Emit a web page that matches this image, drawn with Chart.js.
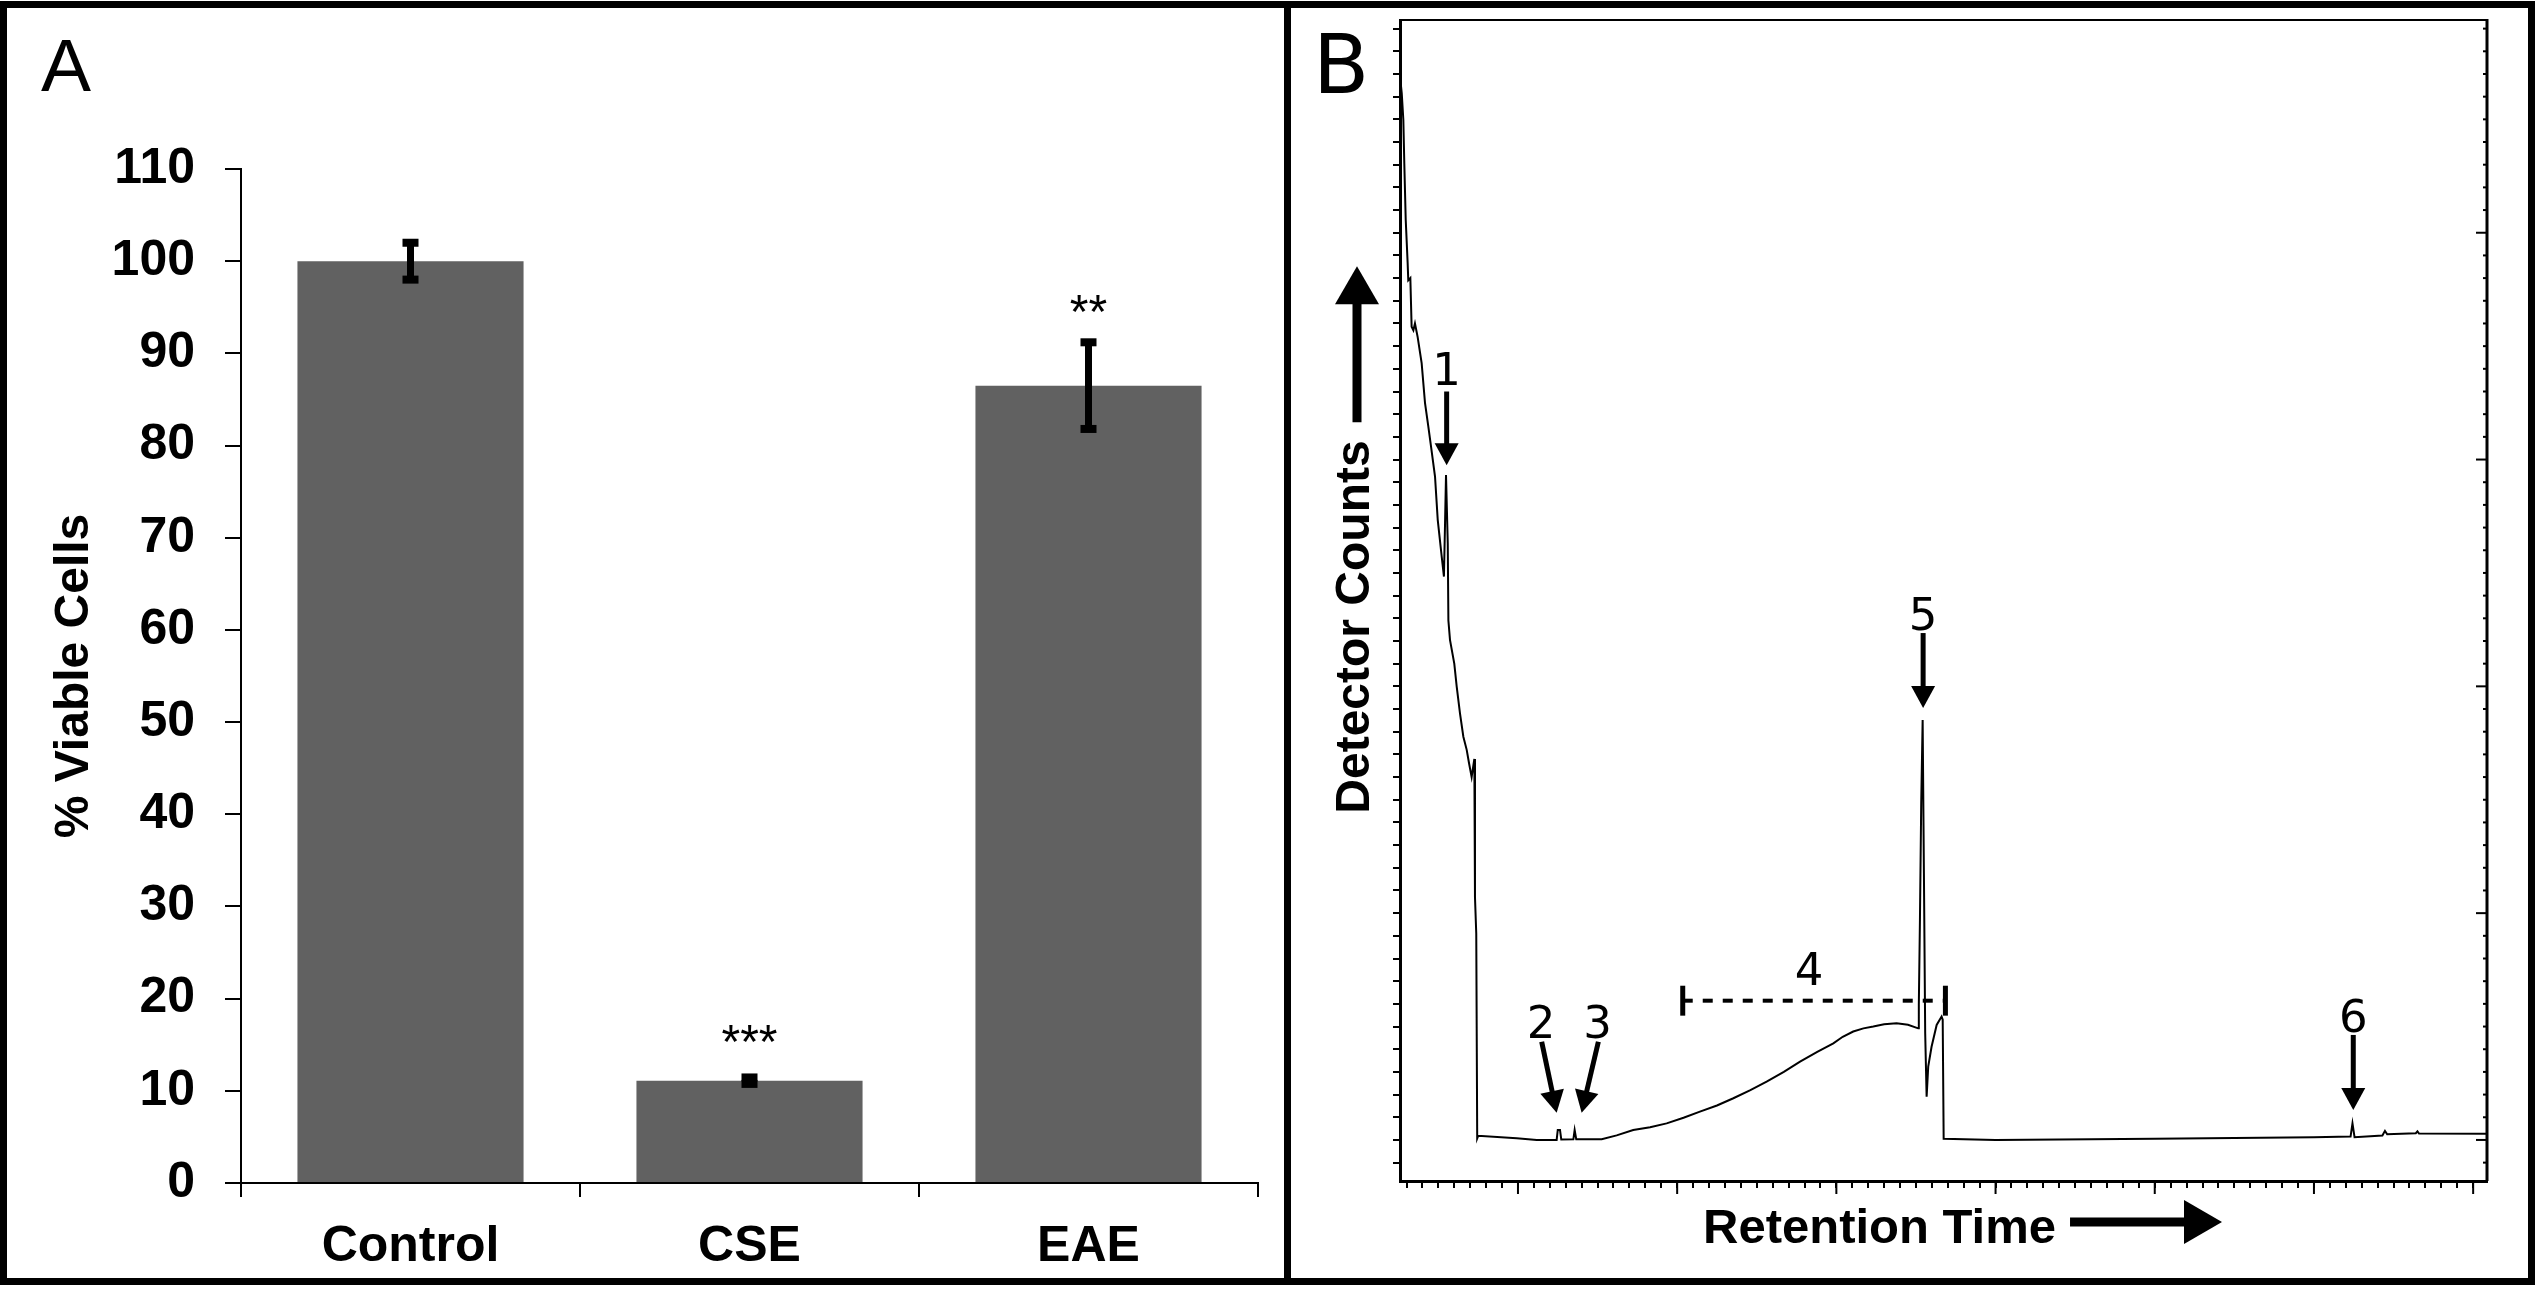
<!DOCTYPE html>
<html>
<head>
<meta charset="utf-8">
<script src="https://cdn.jsdelivr.net/npm/chart.js@4.4.1/dist/chart.umd.min.js"></script>
<style>
  html, body { margin: 0; padding: 0; background: #fff; }
  body { width: 2535px; height: 1290px; position: relative; overflow: hidden; }
  #frame { position: absolute; left: 0; top: 1px; width: 2535px; height: 1284px;
           box-sizing: border-box; border: 7px solid #000; }
  #divider { position: absolute; left: 1284px; top: 1px; width: 7px; height: 1284px; background: #000; }
  .pane { position: absolute; top: 8px; height: 1269px; }
  #paneA { left: 7px; width: 1277px; }
  #paneB { left: 1291px; width: 1237px; }
</style>
</head>
<body>
<div id="frame"></div>
<div id="divider"></div>
<div class="pane" id="paneA"><canvas id="chartA"></canvas></div>
<div class="pane" id="paneB"><canvas id="chartB"></canvas></div>

<script>
// ── Panel A: cell viability ────────────────────────────────
const groups       = ['Control', 'CSE', 'EAE'];
const viability    = [100, 11.1, 86.5];
const viabilityErr = [2.0, 0.35, 4.7];
const stars        = ['', '***', '**'];
const starLevel    = [null, 16.5, 95.7];

// ── Panel B: chromatogram trace (arbitrary units) ──────────
const rtX = [2.59, 2.70, 2.80, 2.86, 2.95, 3.07, 3.11, 3.24, 3.32, 3.43, 3.53, 3.70, 3.95, 4.16,
             4.37, 4.54, 4.79, 4.96, 5.21, 5.35, 5.42, 5.48, 5.59, 5.63, 5.73, 6.00, 6.15, 6.36,
             6.57, 6.78, 6.93, 7.09, 7.26, 7.30, 7.38, 7.44, 7.50, 9.92, 11.18, 12.43, 12.50,
             12.64, 12.72, 13.48, 13.56, 13.66, 15.26, 16.2, 17.24, 18.3, 19.34, 20.4, 21.43, 22.5,
             23.53, 24.6, 25.62, 26.7, 27.72, 28.8, 29.81, 30.4, 31.06, 31.7, 32.32, 33.0, 33.78,
             34.5, 35.14, 35.18, 35.25, 35.33, 35.42, 35.50, 35.58, 35.67, 35.77, 35.98, 36.30,
             36.61, 36.68, 36.74, 40.0, 50.0, 60.0, 62.30, 62.42, 62.55, 64.30, 64.46, 64.60,
             66.40, 66.50, 66.60, 70.87];
const rtY = [46.9, 46.15, 44.97, 43.06, 40.56, 38.67, 37.9, 38.0, 35.86, 35.7, 36.0, 35.4, 34.25, 32.5,
             31.45, 30.57, 29.25, 27.34, 25.72, 24.84, 27.2, 29.32, 26.3, 22.9, 22.05, 21.0, 20.0, 18.8,
             17.78, 17.2, 16.6, 16.0, 16.8, 10.7, 9.1, 0.07, 0.18, 0.07, 0.0, 0.0, 0.44,
             0.44, 0.02, 0.03, 0.44, 0.03, 0.03, 0.2, 0.44, 0.56, 0.73, 0.98, 1.25, 1.52,
             1.84, 2.2, 2.57, 3.0, 3.45, 3.88, 4.26, 4.55, 4.78, 4.92, 5.0, 5.1, 5.14,
             5.08, 4.92, 5.95, 9.7, 14.85, 18.52, 11.76, 4.7, 1.91, 3.23, 4.11, 5.07,
             5.44, 5.3, 0.05, 0.0, 0.05, 0.12, 0.15, 0.73, 0.12, 0.2, 0.4, 0.25,
             0.3, 0.38, 0.28, 0.27];

// peak labels and arrows, in data units of panel B
const peakText   = ['1', '2', '3', '4', '5', '6'];
const peakLabelX = [5.52, 11.45, 15.0, 28.28, 35.45, 62.47];
const peakLabelY = [33.3, 4.5, 4.5, 6.83, 22.5, 4.76];
const arrowFromX = [5.52, 11.49, 15.05, 35.45, 62.47];
const arrowFromY = [33.0, 4.33, 4.33, 22.35, 4.63];
const arrowToX   = [5.52, 12.43, 14.0, 35.45, 62.47];
const arrowToY   = [29.75, 1.2, 1.2, 19.05, 1.32];
const bracketX   = [20.35, 36.85];
const bracketY   = 6.14;
const bracketCap = 0.66;

const ARIAL = '"Liberation Sans", Arial, sans-serif';
const VERDANA = '"DejaVu Sans", Verdana, sans-serif';

function arrow(ctx, x0, y0, x1, y1, shaft, headLen, headW) {
  const a  = Math.atan2(y1 - y0, x1 - x0);
  const bx = x1 - headLen * Math.cos(a), by = y1 - headLen * Math.sin(a);
  ctx.lineWidth = shaft;
  ctx.lineCap = 'butt';
  ctx.beginPath(); ctx.moveTo(x0, y0); ctx.lineTo(bx + Math.cos(a), by + Math.sin(a)); ctx.stroke();
  ctx.beginPath();
  ctx.moveTo(x1, y1);
  ctx.lineTo(bx + headW / 2 * Math.sin(a), by - headW / 2 * Math.cos(a));
  ctx.lineTo(bx - headW / 2 * Math.sin(a), by + headW / 2 * Math.cos(a));
  ctx.closePath(); ctx.fill();
}

const barExtras = {
  id: 'barExtras',
  afterDatasetsDraw(chart) {
    const { ctx, scales: { y } } = chart;
    const meta = chart.getDatasetMeta(0);
    ctx.save();
    ctx.fillStyle = '#000';
    meta.data.forEach((bar, i) => {
      const top = y.getPixelForValue(viability[i] + viabilityErr[i]);
      const bot = y.getPixelForValue(viability[i] - viabilityErr[i]);
      ctx.fillRect(bar.x - 3.5, top, 7, bot - top);
      ctx.fillRect(bar.x - 8, top - 4, 16, 8);
      ctx.fillRect(bar.x - 8, bot - 4, 16, 8);
      if (stars[i]) {
        ctx.font = `48px ${ARIAL}`;
        ctx.textAlign = 'center';
        ctx.textBaseline = 'alphabetic';
        ctx.fillText(stars[i], bar.x, y.getPixelForValue(starLevel[i]) + 27);
      }
    });
    ctx.font = `75px ${ARIAL}`;
    ctx.textAlign = 'left';
    ctx.fillText('A', 34, 83);
    ctx.restore();
  }
};

new Chart(document.getElementById('chartA'), {
  type: 'bar',
  data: {
    labels: groups,
    datasets: [{ data: viability, backgroundColor: '#616161', barPercentage: 0.667, categoryPercentage: 1 }]
  },
  options: {
    responsive: true, maintainAspectRatio: false, animation: false,
    layout: { padding: { top: 161, right: 26, left: 0, bottom: 0 } },
    plugins: { legend: { display: false }, tooltip: { enabled: false } },
    scales: {
      x: {
        grid: { offset: true, drawOnChartArea: false, tickLength: 14, color: '#000', lineWidth: 2 },
        border: { color: '#000', width: 2 },
        ticks: { color: '#000', padding: 20, font: { family: ARIAL, weight: 'bold', size: 50 } },
        afterFit: s => { s.height = 94; }
      },
      y: {
        min: 0, max: 110,
        ticks: { stepSize: 10, padding: 30, color: '#000', font: { family: ARIAL, weight: 'bold', size: 50 } },
        grid: { drawOnChartArea: false, tickLength: 16, color: '#000', lineWidth: 2 },
        border: { color: '#000', width: 2 },
        title: { display: true, text: '% Viable Cells', color: '#000',
                 font: { family: ARIAL, weight: 'bold', size: 48 }, padding: { top: 39, bottom: 0 } },
        afterFit: s => { s.width = 234; }
      }
    }
  },
  plugins: [barExtras]
});

// ── Panel B ────────────────────────────────────────────────
const traceExtras = {
  id: 'traceExtras',
  afterDraw(chart) {
    const { ctx, chartArea: ca, scales: { x, y } } = chart;
    ctx.save();
    ctx.strokeStyle = '#000';
    ctx.fillStyle = '#000';

    // top frame and right axis
    ctx.lineWidth = 2;
    ctx.beginPath(); ctx.moveTo(ca.left, ca.top); ctx.lineTo(ca.right, ca.top); ctx.stroke();
    ctx.lineWidth = 3;
    ctx.beginPath(); ctx.moveTo(ca.right, ca.top - 1); ctx.lineTo(ca.right, ca.bottom); ctx.stroke();

    // inward ticks on the right, longer at every tenth
    ctx.lineWidth = 2;
    y.ticks.forEach(t => {
      const py = y.getPixelForValue(t.value);
      const len = t.value % 10 === 0 ? 11 : 4;
      ctx.beginPath(); ctx.moveTo(ca.right, py); ctx.lineTo(ca.right - len, py); ctx.stroke();
    });
    // longer major ticks on the bottom axis
    x.ticks.filter(t => t.value % 10 === 0).forEach(t => {
      const px = x.getPixelForValue(t.value);
      ctx.beginPath(); ctx.moveTo(px, ca.bottom); ctx.lineTo(px, ca.bottom + 13); ctx.stroke();
    });

    // peak labels
    ctx.font = `45px ${VERDANA}`;
    ctx.textAlign = 'center';
    ctx.textBaseline = 'alphabetic';
    peakText.forEach((t, i) => {
      ctx.fillText(t, x.getPixelForValue(peakLabelX[i]), y.getPixelForValue(peakLabelY[i]));
    });
    arrowFromX.forEach((_, i) => {
      arrow(ctx, x.getPixelForValue(arrowFromX[i]), y.getPixelForValue(arrowFromY[i]),
                 x.getPixelForValue(arrowToX[i]),   y.getPixelForValue(arrowToY[i]), 5, 22, 24);
    });

    // bracket for region 4
    const bx0 = x.getPixelForValue(bracketX[0]), bx1 = x.getPixelForValue(bracketX[1]);
    const by = y.getPixelForValue(bracketY);
    ctx.lineWidth = 4;
    ctx.setLineDash([10, 10]);
    ctx.beginPath(); ctx.moveTo(bx0, by); ctx.lineTo(bx1, by); ctx.stroke();
    ctx.setLineDash([]);
    ctx.lineWidth = 5;
    [bx0, bx1].forEach(bx => {
      ctx.beginPath();
      ctx.moveTo(bx, y.getPixelForValue(bracketY + bracketCap));
      ctx.lineTo(bx, y.getPixelForValue(bracketY - bracketCap));
      ctx.stroke();
    });

    // axis titles with arrows
    ctx.font = `bold 49px ${ARIAL}`;
    ctx.textAlign = 'left';
    const rtText = 'Retention Time';
    const rtW = ctx.measureText(rtText).width;
    const rtLeft = ca.left + 303, rtBase = ca.bottom + 62;
    ctx.fillText(rtText, rtLeft, rtBase);
    arrow(ctx, rtLeft + rtW + 14, ca.bottom + 41, rtLeft + rtW + 166, ca.bottom + 41, 9, 38, 44);

    ctx.font = `bold 48px ${ARIAL}`;
    const dcText = 'Detector Counts';
    const dcW = ctx.measureText(dcText).width;
    const dcX = ca.left - 44, dcY = ca.top + 607;
    ctx.save();
    ctx.translate(dcX, dcY);
    ctx.rotate(-Math.PI / 2);
    ctx.textAlign = 'center';
    ctx.textBaseline = 'middle';
    ctx.fillText(dcText, 0, 0);
    ctx.restore();
    const dcTop = dcY - dcW / 2 - 18;
    arrow(ctx, dcX + 1, dcTop, dcX + 1, dcTop - 156, 9, 38, 44);

    ctx.font = `82px ${VERDANA}`;
    ctx.textAlign = 'left';
    ctx.textBaseline = 'alphabetic';
    ctx.fillText('B', 22, 85);
    ctx.restore();
  }
};

new Chart(document.getElementById('chartB'), {
  type: 'scatter',
  data: {
    datasets: [{
      data: rtX.map((v, i) => ({ x: v, y: rtY[i] })),
      showLine: true, borderColor: '#000', borderWidth: 2,
      pointRadius: 0, tension: 0
    }]
  },
  options: {
    responsive: true, maintainAspectRatio: false, animation: false,
    layout: { padding: { top: 12, right: 41, left: 0, bottom: 0 } },
    plugins: { legend: { display: false }, tooltip: { enabled: false } },
    scales: {
      x: {
        type: 'linear', min: 2.59, max: 70.87,
        ticks: { stepSize: 1, display: false, includeBounds: false },
        grid: { drawOnChartArea: false, tickLength: 7, color: '#000', lineWidth: 2 },
        border: { color: '#000', width: 3 },
        afterFit: s => { s.height = 96; }
      },
      y: {
        min: -1.81, max: 49.38,
        ticks: { stepSize: 1, display: false, includeBounds: false },
        grid: { drawOnChartArea: false, tickLength: 7, color: '#000', lineWidth: 2 },
        border: { color: '#000', width: 3 },
        afterFit: s => { s.width = 109; }
      }
    }
  },
  plugins: [traceExtras]
});
</script>
</body>
</html>
